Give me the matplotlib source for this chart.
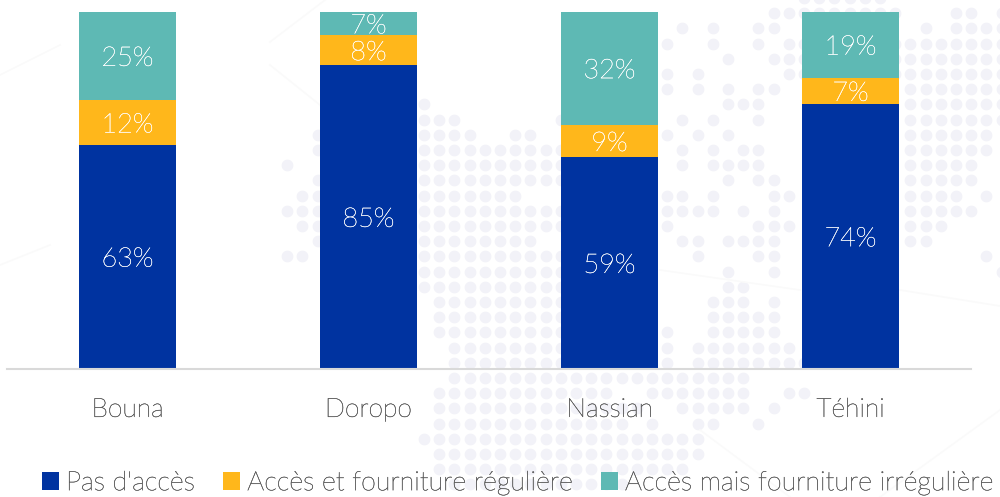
#!/usr/bin/env python3
"""Stacked bars: acces a l'eau par departement, over a faint dotted map."""

import matplotlib
matplotlib.use("Agg")
import matplotlib.pyplot as plt
import matplotlib.patheffects as pe
import numpy as np

communes = ["Bouna", "Doropo", "Nassian", "Téhini"]
# bar heights as measured; the printed labels don't always round from them
pas_acces = [62.7, 85.0, 59.2, 74.1]
acces_regulier = [12.5, 8.4, 9.1, 7.4]
acces_irregulier = [24.8, 6.6, 31.7, 18.5]
pas_acces_labels = ["63%", "85%", "59%", "74%"]
acces_regulier_labels = ["12%", "8%", "9%", "7%"]
acces_irregulier_labels = ["25%", "7%", "32%", "19%"]
series_labels = ["Pas d'accès", "Accès et fourniture régulière", "Accès mais fourniture irrégulière"]
series_colors = ["#0033A0", "#FFB71B", "#5EB9B4"]
text_grey = "#5f5f5f"

# background map: one list of (first col, last col) spans per dot row, from the top
map_rows = [
    [(25, 30)],
    [(23, 31), (35, 36), (38, 38)],
    [(17, 17), (19, 19), (22, 23), (33, 33), (35, 38)],
    [(16, 16), (19, 19), (22, 22), (24, 38)],
    [(20, 20), (23, 38)],
    [(16, 16), (18, 18), (24, 38)],
    [(16, 16), (18, 18), (20, 20), (22, 23), (32, 38)],
    [(0, 0), (20, 22), (32, 38)],
    [(0, 2), (9, 9), (17, 17), (19, 19), (22, 22), (32, 38)],
    [(-7, -7), (0, 3), (6, 7), (16, 16), (18, 18), (20, 20), (32, 37)],
    [(-7, -7), (0, 9), (17, 17), (19, 19), (21, 22), (32, 37)],
    [(-9, -9), (0, 9), (17, 17), (19, 22), (32, 36)],
    [(-7, -7), (0, 9), (20, 20), (22, 23), (32, 36)],
    [(-8, -7), (0, 6), (16, 17), (19, 19), (23, 24), (32, 35), (37, 37)],
    [(-9, -7), (0, 9), (16, 19), (21, 21), (23, 23), (32, 36)],
    [(-8, -7), (0, 9), (16, 16), (22, 24), (32, 34)],
    [(-7, -7), (0, 7), (17, 18), (20, 23), (32, 33)],
    [(-9, -8), (0, 9), (18, 18), (22, 23), (37, 37)],
    [(0, 9), (20, 20), (23, 23), (38, 38)],
    [(0, 9), (20, 21)],
    [(1, 9), (19, 21), (23, 23)],
    [(1, 9), (19, 23)],
    [(1, 9), (16, 16), (19, 23)],
    [(2, 9), (16, 16), (18, 24)],
    [(2, 9), (16, 16), (18, 25)],
    [(2, 21)],
    [(1, 12), (15, 21), (24, 25)],
    [(1, 14), (17, 21), (23, 23)],
    [(1, 13), (15, 15), (18, 19), (22, 22)],
    [(0, 18)],
    [(1, 18)],
    [(1, 17)],
    [(2, 13)],
]

# faint network lines behind the map, (x0, y0, x1, y1) in image pixels
bg_lines = [
    (270, 42, 325, 0), (270, 65, 320, 105), (0, 75, 60, 45), (660, 270, 800, 290),
    (900, 290, 1000, 306), (700, 430, 790, 497), (880, 497, 1000, 410), (0, 265, 50, 245),
]

plt.rcParams["font.family"] = ["Lato", "DejaVu Sans"]
fig = plt.figure(figsize=(10, 4.97), dpi=100)


def thicken(text, color, width=0.3):
    # Lato Light comes out thinner than the reference, add a hair of stroke
    text.set_path_effects([pe.withStroke(linewidth=width, foreground=color)])


bg = fig.add_axes([0, 0, 1, 1], zorder=0)
bg.set_xlim(0, 1000)
bg.set_ylim(497, 0)
bg.axis("off")
for x0, y0, x1, y1 in bg_lines:
    bg.plot([x0, x1], [y0, y1], color="#fafafa", lw=1.2)
dot_x, dot_y = [], []
for r, spans in enumerate(map_rows):
    for first, last in spans:
        for c in range(first, last + 1):
            dot_x.append(424 + 15.2 * c)
            dot_y.append(-2 + 15.2 * r)
bg.scatter(dot_x, dot_y, s=72, color="#f2f2f8", linewidths=0)

ax = fig.add_axes([0.007, 128.3 / 497, 0.964, 357 / 497], zorder=1)
ax.patch.set_alpha(0)

x = np.arange(len(communes))
bottom = np.zeros(len(communes))
handles = []
for vals, texts, label, color in zip(
    [pas_acces, acces_regulier, acces_irregulier],
    [pas_acces_labels, acces_regulier_labels, acces_irregulier_labels],
    series_labels,
    series_colors,
):
    bars = ax.bar(x, vals, 0.4, bottom=bottom, color=color, label=label)
    anns = ax.bar_label(bars, labels=texts, label_type="center", color="white", fontsize=19.5, fontweight="light")
    for ann in anns:
        ann.xyann = (0, -1.7)
        thicken(ann, "white", 0.25)
    bottom += np.array(vals)
    handles.append(bars)

ax.set_xlim(-0.5, 3.5)
ax.set_ylim(0, 100)
ax.set_yticks([])
ax.set_xticks(x, communes)
ax.tick_params(axis="x", length=0, pad=21, labelsize=19, labelcolor=text_grey)
for tick in ax.get_xticklabels():
    tick.set_fontweight("light")
    thicken(tick, text_grey)
for side in ["top", "left", "right"]:
    ax.spines[side].set_visible(False)
ax.spines["bottom"].set_color("#d9d9d9")
ax.spines["bottom"].set_linewidth(1.5)

leg = fig.legend(handles=handles, loc="lower left", bbox_to_anchor=(0.0175, -0.045), ncol=3,
                 frameon=False, handlelength=0.65, handleheight=0.65,
                 handletextpad=0.26, columnspacing=1.05, labelcolor=text_grey,
                 prop={"size": 19.3, "weight": "light"})
for t in leg.get_texts():
    thicken(t, text_grey)

fig.savefig("out.png", dpi=100)
